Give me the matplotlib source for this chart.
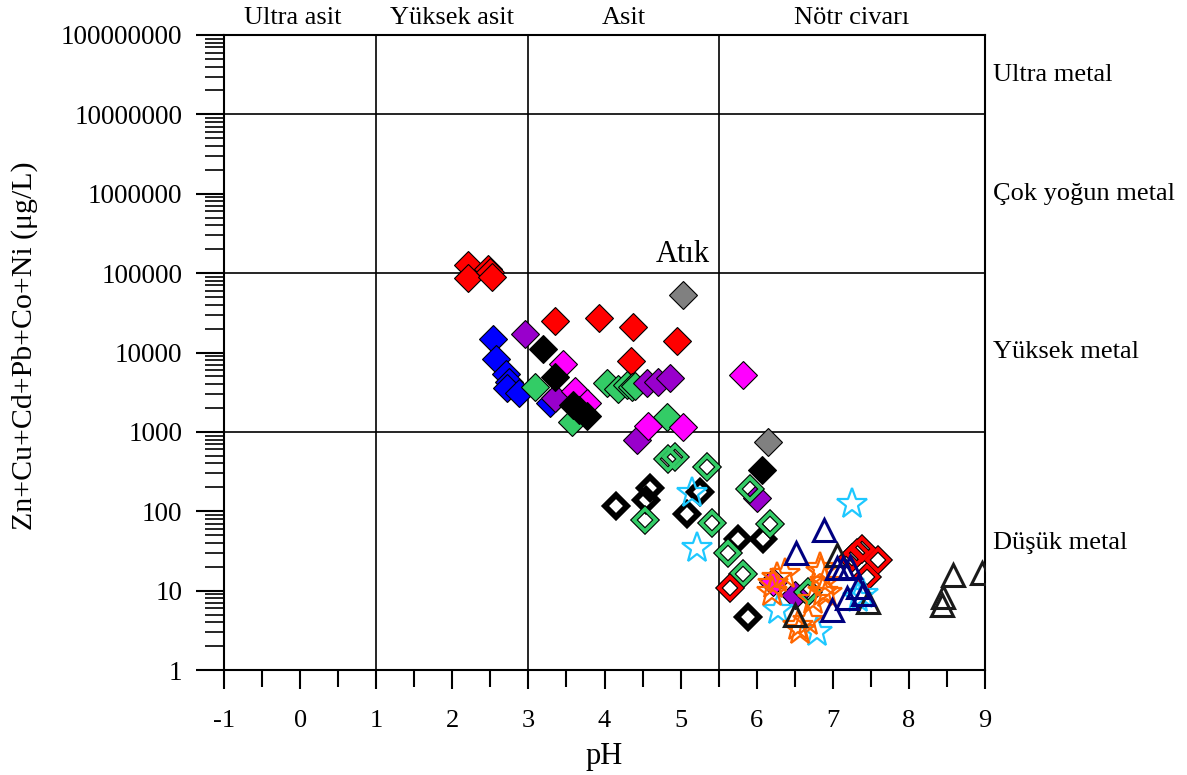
import matplotlib.pyplot as plt
from matplotlib.ticker import FixedLocator, LogLocator, NullFormatter

plt.rcParams['font.family'] = ['Liberation Serif', 'DejaVu Serif']
plt.rcParams['axes.unicode_minus'] = False

# filled diamonds (pH, metal sum in ug/L)
red_ph = [2.20, 2.20, 2.47, 2.50, 2.52, 3.35, 3.93, 4.37, 4.35, 4.95]
red_val = [125000, 86000, 112000, 102000, 90000, 25000, 27000, 21000, 7800, 14000]

blue_ph = [2.53, 2.58, 2.70, 2.74, 2.72, 2.87, 3.28]
blue_val = [14800, 8300, 5300, 4300, 3600, 3100, 2300]

green_ph = [3.09, 3.57, 4.03, 4.18, 4.30, 4.36, 4.40, 4.82]
green_val = [3700, 1350, 4100, 3500, 3900, 3700, 3800, 1520]

purple_ph = [2.96, 3.35, 4.43, 4.56, 4.70, 4.86, 6.00, 6.50]
purple_val = [17000, 2700, 790, 4100, 4300, 4800, 147, 8.8]

magenta_ph = [3.45, 3.61, 3.77, 4.57, 5.03, 5.82, 6.21]
magenta_val = [7200, 3300, 2300, 1200, 1150, 5200, 13]

black_ph = [3.19, 3.35, 3.59, 3.66, 3.77, 6.07]
black_val = [11200, 4900, 2200, 1900, 1600, 330]

gray_ph = [5.03, 6.15]
gray_val = [53000, 750]

# open diamonds
oblack_ph = [4.15, 4.60, 4.54, 5.08, 5.26, 5.75, 6.08, 5.89]
oblack_val = [117, 195, 140, 92, 175, 45, 45, 4.6]

ogreen_ph = [4.83, 4.92, 5.35, 4.53, 5.41, 5.91, 6.17, 5.62, 5.82, 6.67]
ogreen_val = [460, 480, 360, 78, 72, 190, 70, 30, 16, 9.6]

ored_ph = [5.65, 7.25, 7.32, 7.38, 7.60, 7.45]
ored_val = [10.8, 26, 30, 33, 24, 15]

# open stars
cyan_ph = [5.15, 5.21, 7.25, 6.28, 6.79, 7.40, 7.33]
cyan_val = [170, 34, 125, 5.7, 3.0, 9.0, 8.0]

orange_ph = [6.21, 6.37, 6.27, 6.20, 6.83, 6.90, 6.87, 6.74, 6.92, 6.57, 6.67, 6.54, 6.85]
orange_val = [12, 16, 14.5, 9.6, 19, 13, 9.6, 7.6, 9.3, 3.2, 4.2, 3.6, 17]

# open triangles
navy_ph = [6.89, 6.52, 7.05, 7.13, 7.23, 7.19, 6.99, 7.33, 7.40]
navy_val = [58, 30, 19, 19.5, 20, 8.1, 5.7, 11, 9]

tblack_ph = [7.06, 7.46, 6.50, 8.58, 8.96, 8.45, 8.44]
tblack_val = [28, 7.2, 4.9, 15.8, 16.7, 8.3, 6.6]

fig = plt.figure(figsize=(11.87, 7.75), dpi=100)
ax = fig.add_axes([224 / 1187, 1 - 670 / 775, 761 / 1187, 635 / 775])
ax.set_yscale('log')
ax.set_xlim(-1, 9)
ax.set_ylim(1, 1e8)

# class boundaries
for x in [1, 3, 5.5]:
    ax.axvline(x, color='black', lw=1.2, zorder=1)
for y in [1e3, 1e5, 1e7]:
    ax.axhline(y, color='black', lw=1.2, zorder=1)

fd = dict(linestyle='none', marker='D', ms=14, mec='black', mew=0.8, zorder=3)
ax.plot(red_ph, red_val, mfc='#ff0000', **fd)
ax.plot(blue_ph, blue_val, mfc='#0000ff', **fd)
ax.plot(green_ph, green_val, mfc='#33cc66', **fd)
ax.plot(purple_ph, purple_val, mfc='#9900cc', **fd)
ax.plot(magenta_ph, magenta_val, mfc='#ff00ff', **fd)
ax.plot(black_ph, black_val, mfc='#000000', **fd)
ax.plot(gray_ph, gray_val, mfc='#808080', **fd)

od = dict(linestyle='none', marker='D', ms=11, mfc='none', zorder=4)
ax.plot(oblack_ph, oblack_val, mec='black', mew=4.2, **od)
for xs, ys, c in [(ogreen_ph, ogreen_val, '#33cc66'), (ored_ph, ored_val, '#ff0000')]:
    ax.plot(xs, ys, mec='black', mew=4.2, **od)
    ax.plot(xs, ys, mec=c, mew=2.6, **od)

st = dict(linestyle='none', marker='*', ms=23, mfc='none', mew=1.6, zorder=5)
ax.plot(cyan_ph, cyan_val, mec='#1ec8ff', **st)
ax.plot(orange_ph, orange_val, mec='#ff6600', **st)

tr = dict(linestyle='none', marker='^', ms=16, mfc='none', mew=2.2, zorder=6)
ax.plot(tblack_ph, tblack_val, mec='#1a1a1a', **tr)
ax.plot(navy_ph, navy_val, mec='#000080', **tr)

for s in ax.spines.values():
    s.set_linewidth(1.5)

ax.xaxis.set_major_locator(FixedLocator(range(-1, 10)))
ax.xaxis.set_minor_locator(FixedLocator([x + 0.5 for x in range(-1, 9)]))
ax.yaxis.set_major_locator(FixedLocator([10 ** k for k in range(9)]))
ax.yaxis.set_major_formatter(plt.FuncFormatter(lambda v, p: '%d' % round(v)))
ax.yaxis.set_minor_locator(LogLocator(base=10, subs=range(2, 10), numticks=20))
ax.yaxis.set_minor_formatter(NullFormatter())
ax.tick_params(axis='x', which='major', direction='out', length=14, width=1.5, pad=15, labelsize=19)
ax.tick_params(axis='x', which='minor', direction='out', length=12, width=1.5)
ax.tick_params(axis='y', which='major', direction='out', length=20, width=1.5, pad=10, labelsize=19.5)
ax.tick_params(axis='y', which='minor', direction='out', length=13.5, width=1.2)

ax.set_xlabel('pH', fontsize=22)
ax.xaxis.set_label_coords(0.5, -0.114)
ax.xaxis.label.set_va('top')
ax.set_ylabel('Zn+Cu+Cd+Pb+Co+Ni (\u03bcg/L)', fontsize=21.5)
ax.yaxis.set_label_coords(-0.244, 0.51)

# pH classes along the top
for x, t in [(-0.1, 'Ultra asit'), (2.0, 'Yüksek asit'), (4.25, 'Asit'), (7.25, 'Nötr civarı')]:
    ax.annotate(t, xy=(x, 1e8), xytext=(0, 4), textcoords='offset points',
                ha='center', va='bottom', fontsize=19, annotation_clip=False)

# metal classes on the right
for y, t in [(10 ** 7.5, 'Ultra metal'), (1e6, 'Çok yoğun metal'),
             (1e4, 'Yüksek metal'), (40, 'Düşük metal')]:
    ax.text(9.11, y, t, ha='left', va='center', fontsize=19, clip_on=False)

ax.text(5.03, 10 ** 5.23, 'Atık', ha='center', va='center', fontsize=22)

fig.savefig('out.png', dpi=100)
